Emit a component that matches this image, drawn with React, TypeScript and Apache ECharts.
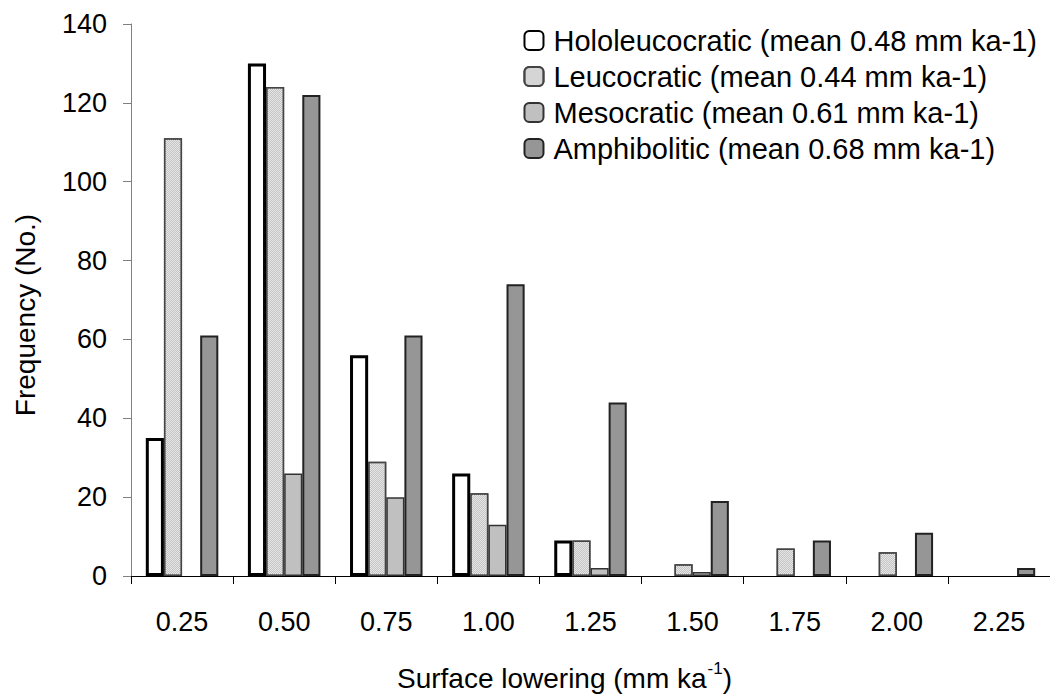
import React, { useEffect, useRef } from "react";
import * as echarts from "echarts";

const categories = ["0.25", "0.50", "0.75", "1.00", "1.25", "1.50", "1.75", "2.00", "2.25"];
const hololeucocratic = [35, 130, 56, 26, 9, 0, 0, 0, 0];
const leucocratic = [111, 124, 29, 21, 9, 3, 7, 6, 0];
const mesocratic = [0, 26, 20, 13, 2, 1, 0, 0, 0];
const amphibolitic = [61, 122, 61, 74, 44, 19, 9, 11, 2];
const seriesNames = [
  "Hololeucocratic (mean 0.48 mm ka-1)",
  "Leucocratic (mean 0.44 mm ka-1)",
  "Mesocratic (mean 0.61 mm ka-1)",
  "Amphibolitic (mean 0.68 mm ka-1)",
];
const yTicks = [0, 20, 40, 60, 80, 100, 120, 140];

const FONT = "Liberation Sans, Arial, sans-serif";

export default function App() {
  const ref = useRef<HTMLDivElement>(null);
  useEffect(() => {
    if (!ref.current) return;
    const chart = echarts.init(ref.current, null, { renderer: "svg" });
    const checker = {
      symbol: "rect",
      symbolSize: 1,
      color: "#c4c4c4",
      backgroundColor: "#ffffff",
      dashArrayX: [[1, 1], [0, 1, 1, 0]],
      dashArrayY: [1, 0],
      rotation: 0,
    };
    const styles = [
      { color: "#ffffff", borderColor: "#000000", borderWidth: 3 },
      { color: "#e6e6e6", borderColor: "#444444", borderWidth: 1.5, decal: checker },
      { color: "#c0c0c0", borderColor: "#333333", borderWidth: 1.5 },
      { color: "#969696", borderColor: "#222222", borderWidth: 2 },
    ];
    const datas = [hololeucocratic, leucocratic, mesocratic, amphibolitic];
    chart.setOption({
      animation: false,
      textStyle: { fontFamily: FONT },
      grid: { left: 131, right: 0, top: 24, bottom: 113, containLabel: false },
      legend: {
        orient: "vertical",
        right: 8,
        top: 21,
        itemWidth: 19,
        itemHeight: 19,
        itemGap: 7,
        textStyle: { fontFamily: FONT, fontSize: 29, color: "#000", padding: [0, 0, 0, 5] },
        data: seriesNames,
      },
      xAxis: {
        type: "category",
        data: categories,
        boundaryGap: true,
        axisLine: { lineStyle: { color: "#000", width: 1 } },
        axisTick: { show: true, length: 8, lineStyle: { color: "#000" } },
        axisLabel: { fontFamily: FONT, fontSize: 27, color: "#000", margin: 32 },
        name: "{a|Surface lowering (mm ka}{b|-1}{a|)}",
        nameLocation: "middle",
        nameGap: 84,
        nameTextStyle: {
          padding: [0, 52, 0, 0],
          rich: {
            a: { fontFamily: FONT, fontSize: 28, color: "#000", lineHeight: 32, verticalAlign: "bottom" },
            b: { fontFamily: FONT, fontSize: 17, color: "#000", lineHeight: 32, verticalAlign: "top", padding: [0, 0, 0, 1] },
          },
        },
      },
      yAxis: {
        type: "value",
        min: yTicks[0],
        max: yTicks[yTicks.length - 1],
        interval: 20,
        splitLine: { show: false },
        axisLine: { show: true, lineStyle: { color: "#808080", width: 1 } },
        axisTick: { show: true, length: 8, lineStyle: { color: "#808080" } },
        axisLabel: { fontFamily: FONT, fontSize: 27, color: "#000", margin: 24 },
        name: "Frequency (No.)",
        nameLocation: "middle",
        nameGap: 92,
        nameTextStyle: { fontFamily: FONT, fontSize: 28, color: "#000", padding: [0, 30, 0, 0] },
      },
      series: datas.map((d, i) => ({
        type: "bar",
        name: seriesNames[i],
        data: d.map((v) => (v === 0 ? null : v)),
        barGap: "0%",
        barCategoryGap: "29%",
        itemStyle: styles[i],
      })),
    });
    return () => chart.dispose();
  }, []);
  return (
    <div
      ref={ref}
      style={{ position: "fixed", left: 0, top: 0, width: 1050, height: 697, background: "#fff" }}
    />
  );
}
